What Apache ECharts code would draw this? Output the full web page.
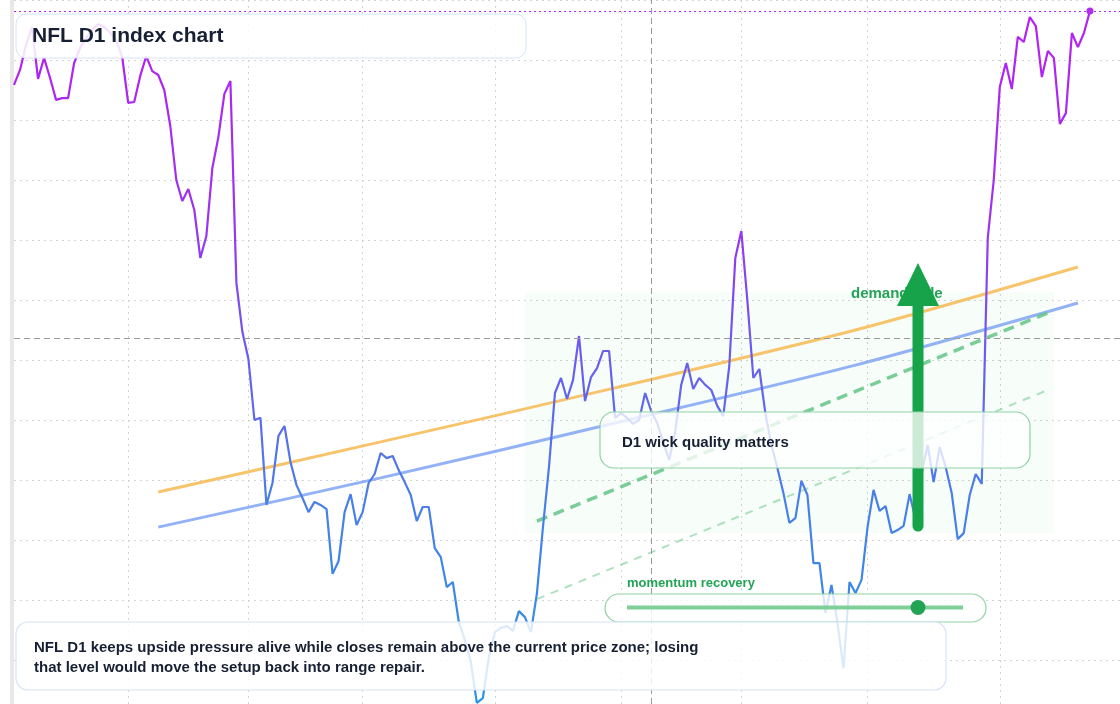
<!DOCTYPE html>
<html>
<head>
<meta charset="utf-8">
<script src="https://cdn.jsdelivr.net/npm/echarts@6/dist/echarts.min.js"></script>
<style>
html,body{margin:0;padding:0;background:#fff;}
#chart{width:1120px;height:704px;}
</style>
</head>
<body>
<div id="chart"></div>
<script>
// ---- Data ----
const startDate = '2025-12-04';
const holidays = ['2025-12-25','2026-01-01','2026-01-19','2026-02-16','2026-04-03','2026-05-25','2026-06-19','2026-07-03'];
const categoryCount = 185;

const closes = [
103.17,103.67,104.50,105.10,103.37,104.07,103.40,102.67,102.73,102.73,
103.90,104.40,104.73,105.00,105.20,105.10,104.90,104.67,104.10,102.57,
102.60,103.47,104.13,103.63,103.50,103.00,101.80,100.00,99.30,99.70,
99.00,97.40,98.13,100.40,101.43,102.87,103.30,96.57,94.93,94.03,
92.00,92.07,89.17,89.90,91.47,91.80,90.60,89.83,89.40,88.93,
89.27,89.17,89.03,86.87,87.30,88.93,89.53,88.50,88.93,89.90,
90.20,90.90,90.73,90.80,90.33,89.93,89.50,88.63,89.10,89.10,
87.73,87.43,86.43,86.60,85.27,84.67,83.93,82.57,82.73,84.10,
84.93,85.07,85.13,84.97,85.63,85.43,84.93,86.23,88.43,90.43,
92.90,93.40,92.70,93.33,94.80,92.63,93.43,93.73,94.30,94.30,
92.07,92.23,92.07,91.87,92.00,92.90,92.30,91.90,91.27,90.67,
91.60,93.17,93.90,93.03,93.40,93.17,93.00,92.47,92.13,93.80,
97.40,98.30,96.00,93.40,93.70,92.23,91.17,90.40,89.57,88.57,
88.73,89.97,89.50,87.23,87.23,85.57,86.50,85.23,83.73,86.60,
86.23,86.67,88.43,89.67,88.97,89.13,88.23,88.33,88.47,89.53,
88.67,90.23,91.17,89.93,91.10,90.43,89.57,88.03,88.23,89.50,
90.20,89.87,98.07,100.00,103.10,103.90,103.03,104.77,104.60,105.43,
105.13,103.43,104.30,104.07,101.87,102.23,104.90,104.43,104.90,105.63
];

// trend curves: [category index, value]
const upperTrend = [[24,89.60],[61,91.27],[100,93.07],[140,95.00],[177,97.10]];
const lowerTrend = [[24,88.43],[61,90.07],[100,91.90],[140,93.83],[177,95.90]];
const supportRay = [[87,88.63],[172,95.57]];
const supportRayLow = [[87,86.03],[172,93.00]];

const priceZoneLevel = 94.73;
const markerIndex = 106;
const demandZone = {from: 85, to: 173, low: 88.23, high: 96.27};
const axisMin = 82.5333;
const axisMax = 106;

const titleText = 'NFL D1 index chart';
const noteLines = [
  'NFL D1 keeps upside pressure alive while closes remain above the current price zone; losing',
  'that level would move the setup back into range repair.'
];
const calloutText = 'D1 wick quality matters';
const demandLabel = 'demand side';
const momentumLabel = 'momentum recovery';

// ---- categories (trading days) ----
function buildDates() {
  const out = [];
  const d = new Date(startDate + 'T00:00:00Z');
  while (out.length < categoryCount) {
    const day = d.getUTCDay();
    const s = d.toISOString().slice(0,10);
    if (day !== 0 && day !== 6 && holidays.indexOf(s) < 0) out.push(s);
    d.setUTCDate(d.getUTCDate() + 1);
  }
  return out;
}
const dates = buildDates();
const lastIdx = closes.length - 1;
const lastVal = closes[lastIdx];

const FONT = '"Liberation Sans", Arial, sans-serif';
const chart = echarts.init(document.getElementById('chart'), null, {renderer: 'canvas'});

const gridLine = {color: '#d3d3d3', width: 1, type: [2, 4]};

const option = {
  animation: false,
  backgroundColor: '#ffffff',
  grid: {left: 14, right: 0, top: 0, bottom: 0, containLabel: false},
  xAxis: {
    type: 'category',
    data: dates,
    boundaryGap: false,
    axisLine: {show: false},
    axisTick: {show: false},
    axisLabel: {show: false},
    splitLine: {
      show: true,
      interval: function (i) { return i > 0 && dates[i].slice(5,7) !== dates[i-1].slice(5,7); },
      lineStyle: gridLine
    }
  },
  yAxis: {
    type: 'value',
    min: axisMin, max: axisMax,
    splitNumber: 12, minInterval: 2, maxInterval: 2,
    offset: 2,
    axisLine: {show: true, lineStyle: {color: '#e8e8e8', width: 4}},
    axisTick: {show: false},
    axisLabel: {show: false},
    splitLine: {show: true, lineStyle: gridLine}
  },
  series: [
    {
      name: 'upper', type: 'line', data: upperTrend, smooth: 0.3, showSymbol: false, z: 3,
      lineStyle: {color: 'rgba(246,190,92,0.9)', width: 3}, silent: true,
      markArea: {
        silent: true,
        itemStyle: {color: 'rgba(34,197,94,0.035)'},
        data: [[{xAxis: dates[demandZone.from], yAxis: demandZone.high}, {xAxis: dates[demandZone.to], yAxis: demandZone.low}]]
      }
    },
    {
      name: 'lower', type: 'line', data: lowerTrend, smooth: 0.3, showSymbol: false, z: 3,
      lineStyle: {color: 'rgba(128,164,245,0.85)', width: 3}, silent: true
    },
    {
      name: 'ray', type: 'line', data: supportRay, showSymbol: false, z: 3,
      lineStyle: {color: 'rgba(100,196,134,0.85)', width: 3.5, type: [11, 7]}, silent: true
    },
    {
      name: 'rayLow', type: 'line', data: supportRayLow, showSymbol: false, z: 3,
      lineStyle: {color: 'rgba(120,205,150,0.6)', width: 2, type: [8, 7]}, silent: true
    },
    {
      name: 'close', type: 'line', data: closes, showSymbol: false, z: 4,
      lineStyle: {
        width: 2.2,
        color: new echarts.graphic.LinearGradient(0, 0, 0, 1, [
          {offset: 0, color: '#b81ff2'},
          {offset: 0.3, color: '#9b33f0'},
          {offset: 0.5, color: '#6a5cf1'},
          {offset: 0.7, color: '#4a7ee9'},
          {offset: 1, color: '#2a93e6'}
        ])
      },
      markLine: {
        silent: true, symbol: 'none', label: {show: false},
        data: [
          {yAxis: lastVal, lineStyle: {color: '#b22cf0', type: [2, 3], width: 1.2}},
          {yAxis: priceZoneLevel, lineStyle: {color: '#9a9a9a', type: [6, 4], width: 1}},
          {xAxis: dates[markerIndex], lineStyle: {color: '#9a9a9a', type: [6, 4], width: 1}}
        ]
      },
      markPoint: {
        silent: true,
        symbol: 'circle', symbolSize: 7,
        itemStyle: {color: '#b22cf0'},
        label: {show: false},
        data: [{coord: [dates[lastIdx], lastVal]}]
      }
    }
  ],
  graphic: [
    {type: 'text', z: 50, left: 851, top: 286,
     style: {text: demandLabel, font: 'bold 15px ' + FONT, fill: '#22a355'}},
    {type: 'line', z: 60, shape: {x1: 918, y1: 526, x2: 918, y2: 300},
     style: {stroke: '#17a34a', lineWidth: 11, lineCap: 'round'}},
    {type: 'polygon', z: 61, shape: {points: [[918, 263], [939, 306], [897, 306]]},
     style: {fill: '#17a34a'}},
    {type: 'rect', z: 100, shape: {x: 16, y: 14, width: 510, height: 44, r: 10},
     style: {fill: 'rgba(255,255,255,0.86)', stroke: '#d6e4f7', lineWidth: 1}},
    {type: 'text', z: 101, left: 32, top: 26,
     style: {text: titleText, font: 'bold 21px ' + FONT, fill: '#172033'}},
    {type: 'rect', z: 100, shape: {x: 600, y: 412, width: 430, height: 56, r: 14},
     style: {fill: 'rgba(255,255,255,0.78)', stroke: '#8fd3a6', lineWidth: 1.2}},
    {type: 'text', z: 101, left: 622, top: 435,
     style: {text: calloutText, font: 'bold 15px ' + FONT, fill: '#172033'}},
    {type: 'text', z: 101, left: 627, top: 577,
     style: {text: momentumLabel, font: 'bold 13px ' + FONT, fill: '#22a355'}},
    {type: 'rect', z: 100, shape: {x: 605, y: 594, width: 381, height: 28, r: 14},
     style: {fill: 'rgba(255,255,255,0.8)', stroke: '#8fd3a6', lineWidth: 1.2}},
    {type: 'line', z: 101, shape: {x1: 627, y1: 607.5, x2: 963, y2: 607.5},
     style: {stroke: '#7fcf99', lineWidth: 4}},
    {type: 'circle', z: 102, shape: {cx: 918, cy: 607.5, r: 7.5},
     style: {fill: '#23a455'}},
    {type: 'rect', z: 100, shape: {x: 16, y: 622, width: 930, height: 68, r: 12},
     style: {fill: 'rgba(255,255,255,0.82)', stroke: '#d6e4f7', lineWidth: 1.2}},
    {type: 'text', z: 101, left: 34, top: 640,
     style: {text: noteLines[0], font: 'bold 15px ' + FONT, fill: '#172033'}},
    {type: 'text', z: 101, left: 34, top: 660,
     style: {text: noteLines[1], font: 'bold 15px ' + FONT, fill: '#172033'}}
  ]
};
chart.setOption(option);
</script>
</body>
</html>
